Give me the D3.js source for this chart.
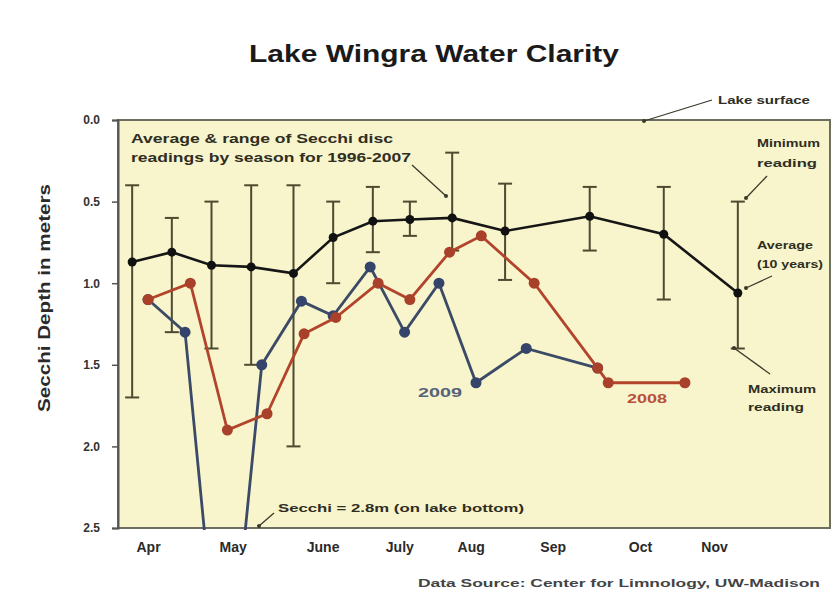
<!DOCTYPE html>
<html>
<head>
<meta charset="utf-8">
<script src="https://cdn.jsdelivr.net/npm/d3@7"></script>
<style>
  html, body { margin: 0; padding: 0; background: #ffffff; }
  svg text { font-family: "Liberation Sans", Arial, sans-serif; }
</style>
</head>
<body>
<svg id="chart" width="834" height="592"></svg>
<script>
// ---- Data (x = days since April 1, y = Secchi depth in metres) ----
const avgDays  = [8, 23, 38, 53, 69, 84, 99, 113, 129, 149, 181, 209, 237];
const avgDepth = [0.87, 0.81, 0.89, 0.90, 0.94, 0.72, 0.62, 0.61, 0.60, 0.68, 0.59, 0.70, 1.06];
const minDepth = [0.40, 0.60, 0.50, 0.40, 0.40, 0.50, 0.41, 0.50, 0.20, 0.39, 0.41, 0.41, 0.50];
const maxDepth = [1.70, 1.30, 1.40, 1.50, 2.00, 1.00, 0.81, 0.71, 0.80, 0.98, 0.80, 1.10, 1.40];

const days2009  = [14, 28, 37, 49, 57, 72, 84, 98, 111, 124, 138, 157, 184];
const depth2009 = [1.10, 1.30, 2.80, 2.80, 1.50, 1.11, 1.20, 0.90, 1.30, 1.00, 1.61, 1.40, 1.52];

const days2008  = [14, 30, 44, 59, 73, 85, 101, 113, 128, 140, 160, 184, 188, 217];
const depth2008 = [1.10, 1.00, 1.90, 1.80, 1.31, 1.21, 1.00, 1.10, 0.81, 0.71, 1.00, 1.52, 1.61, 1.61];

const monthLabels = ["Apr", "May", "June", "July", "Aug", "Sep", "Oct", "Nov"];
const monthDays   = [14, 46, 80, 109, 136, 167, 200, 228];
const yTicks = [0.0, 0.5, 1.0, 1.5, 2.0, 2.5];

// ---- Layout ----
const svg = d3.select("#chart");
const plot = { left: 118, right: 830, top: 120, bottom: 528 };

const x = d3.scaleLinear().domain([0, 272]).range([111, 830.4]);
const y = d3.scaleLinear().domain([0, 2.5]).range([plot.top, plot.bottom]);

const avgData = avgDays.map((d, i) => ({ d, v: avgDepth[i], lo: minDepth[i], hi: maxDepth[i] }));
const s2009 = days2009.map((d, i) => ({ d, v: depth2009[i] }));
const s2008 = days2008.map((d, i) => ({ d, v: depth2008[i] }));

// Title
svg.append("text")
  .attr("x", 434).attr("y", 62)
  .attr("text-anchor", "middle")
  .attr("font-size", 23).attr("font-weight", "bold").attr("fill", "#1a1a1a")
  .attr("textLength", 370).attr("lengthAdjust", "spacingAndGlyphs")
  .text("Lake Wingra Water Clarity");

// Plot background
svg.append("rect")
  .attr("x", plot.left).attr("y", plot.top)
  .attr("width", plot.right - plot.left).attr("height", plot.bottom - plot.top)
  .attr("fill", "#f8f4cc");

svg.append("defs").append("clipPath").attr("id", "clip")
  .append("rect")
  .attr("x", plot.left).attr("y", plot.top - 5)
  .attr("width", plot.right - plot.left).attr("height", plot.bottom - plot.top + 7);

// Frame: top, right, bottom
svg.append("rect")
  .attr("x", plot.left).attr("y", plot.top)
  .attr("width", plot.right - plot.left).attr("height", plot.bottom - plot.top)
  .attr("fill", "none").attr("stroke", "#6e6e60").attr("stroke-width", 2);

// Y axis
const yAxis = d3.axisLeft(y).tickValues(yTicks).tickFormat(d3.format(".1f")).tickSize(6).tickPadding(12);
const gy = svg.append("g").attr("transform", `translate(${plot.left},0)`).call(yAxis);
gy.select(".domain").attr("stroke", "#555").attr("stroke-width", 2);
gy.selectAll(".tick line").attr("stroke", "#555").attr("stroke-width", 1.5);
gy.selectAll(".tick text").attr("font-size", 12).attr("font-weight", "bold").attr("fill", "#333")
  .attr("font-family", "Liberation Sans, Arial, sans-serif");

// X axis month labels
const xAxis = d3.axisBottom(x).tickValues(monthDays).tickFormat((d, i) => monthLabels[i]).tickSize(0).tickPadding(14);
const gx = svg.append("g").attr("transform", `translate(0,${plot.bottom})`).call(xAxis);
gx.select(".domain").remove();
gx.selectAll(".tick text").attr("font-size", 14).attr("font-weight", "bold").attr("fill", "#2a2a2a")
  .attr("font-family", "Liberation Sans, Arial, sans-serif");

// Y axis title
svg.append("text")
  .attr("transform", "translate(50,298) rotate(-90)")
  .attr("text-anchor", "middle")
  .attr("font-size", 17).attr("font-weight", "bold").attr("fill", "#2a2a2a")
  .attr("textLength", 228).attr("lengthAdjust", "spacingAndGlyphs")
  .text("Secchi Depth in meters");

// Error bars (10-year range)
const eb = svg.append("g").attr("stroke", "#4d4a30").attr("stroke-width", 2);
eb.selectAll("line.v").data(avgData).join("line")
  .attr("x1", d => x(d.d)).attr("x2", d => x(d.d))
  .attr("y1", d => y(d.lo)).attr("y2", d => y(d.hi));
eb.selectAll("line.t").data(avgData).join("line")
  .attr("x1", d => x(d.d) - 7).attr("x2", d => x(d.d) + 7)
  .attr("y1", d => y(d.lo)).attr("y2", d => y(d.lo));
eb.selectAll("line.b").data(avgData).join("line")
  .attr("x1", d => x(d.d) - 7).attr("x2", d => x(d.d) + 7)
  .attr("y1", d => y(d.hi)).attr("y2", d => y(d.hi));

const line = d3.line().x(p => x(p.d)).y(p => y(p.v));
const clipped = svg.append("g").attr("clip-path", "url(#clip)");

// 2009 series
clipped.append("path").datum(s2009).attr("d", line)
  .attr("fill", "none").attr("stroke", "#3b4a66").attr("stroke-width", 2.8);
clipped.selectAll("circle.b").data(s2009).join("circle")
  .attr("cx", p => x(p.d)).attr("cy", p => y(p.v)).attr("r", 5.5).attr("fill", "#34446a");

// 2008 series
clipped.append("path").datum(s2008).attr("d", line)
  .attr("fill", "none").attr("stroke", "#b2442b").attr("stroke-width", 2.8);
clipped.selectAll("circle.r").data(s2008).join("circle")
  .attr("cx", p => x(p.d)).attr("cy", p => y(p.v)).attr("r", 5.5).attr("fill", "#a8402a");

// Average line
svg.append("path").datum(avgData).attr("d", line)
  .attr("fill", "none").attr("stroke", "#161616").attr("stroke-width", 2.6);
svg.selectAll("circle.a").data(avgData).join("circle")
  .attr("cx", p => x(p.d)).attr("cy", p => y(p.v)).attr("r", 4.5).attr("fill", "#111");

// Annotations
const ann = svg.append("g").attr("font-weight", "bold").attr("fill", "#2e2e22");
function label(txt, xx, yy, size, len, color) {
  const t = ann.append("text").attr("x", xx).attr("y", yy).attr("font-size", size).text(txt);
  if (len) t.attr("textLength", len).attr("lengthAdjust", "spacingAndGlyphs");
  if (color) t.attr("fill", color);
  return t;
}
function arrow(x1, y1, x2, y2) {
  svg.append("line").attr("x1", x1).attr("y1", y1).attr("x2", x2).attr("y2", y2)
    .attr("stroke", "#3a3a2a").attr("stroke-width", 1.3);
  svg.append("circle").attr("cx", x2).attr("cy", y2).attr("r", 2).attr("fill", "#3a3a2a");
}

label("Average & range of Secchi disc", 131, 143, 12, 262);
label("readings by season for 1996-2007", 131, 162, 12, 280);
arrow(412, 165, 446, 196);

label("Lake surface", 718, 104, 10, 92);
arrow(712, 100, 644, 121);

label("Minimum", 757, 147, 10, 63);
label("reading", 757, 167, 10, 60);
arrow(767, 176, 746, 198);

label("Average", 757, 249, 10, 56);
label("(10 years)", 757, 268, 10, 66);
arrow(772, 276, 746, 288);

label("Maximum", 748, 393, 10, 68);
label("reading", 748, 411, 10, 56);
arrow(770, 374, 734, 348);

label("Secchi = 2.8m (on lake bottom)", 278, 512, 10, 246);
arrow(274, 513, 259, 526);

label("2009", 418, 397, 13, 44, "#56627a");
label("2008", 627, 403, 13, 40, "#b8503a");

label("Data Source: Center for Limnology, UW-Madison", 418, 587, 11, 402, "#444");
</script>
</body>
</html>
